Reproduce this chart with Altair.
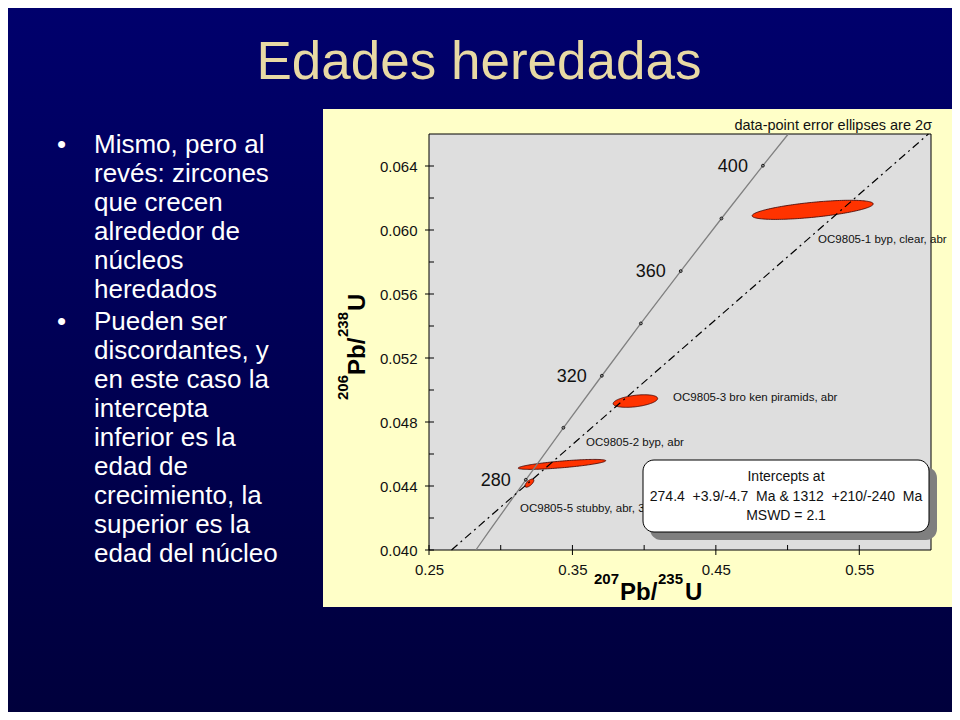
import altair as alt
import pandas as pd
import numpy as np

# ------------------------------------------------------------------ data
title_text = "Edades heredadas"
bullet1 = ["Mismo, pero al", "revés: zircones", "que crecen", "alrededor de",
           "núcleos", "heredados"]
bullet2 = ["Pueden ser", "discordantes, y", "en este caso la", "intercepta",
           "inferior es la", "edad de", "crecimiento, la", "superior es la",
           "edad del núcleo"]

# concordia curve
conc_x = [0.2827, 0.2918, 0.3175, 0.3437, 0.3705, 0.3977, 0.4255, 0.4539, 0.4828, 0.5005]
conc_y = [0.0400, 0.04116, 0.04439, 0.04764, 0.05089, 0.05416, 0.05743, 0.06072, 0.06402, 0.0660]

marker_age = [280, 300, 320, 340, 360, 380, 400]
marker_x = [0.3175, 0.3437, 0.3705, 0.3977, 0.4255, 0.4539, 0.4828]
marker_y = [0.04439, 0.04764, 0.05089, 0.05416, 0.05743, 0.06072, 0.06402]
labelled_ages = [280, 320, 360, 400]

# discordia (regression line)
disc_x = [0.2657, 0.5982]
disc_y = [0.0400, 0.0660]

# error ellipses: centre, half x-extent, y-rise along major axis, vertical half-thickness
ell_name = ["OC9805-1", "OC9805-3", "OC9805-2", "OC9805-5"]
ell_cx = [0.5175, 0.3939, 0.3427, 0.3200]
ell_cy = [0.06126, 0.04931, 0.04535, 0.04418]
ell_ax = [0.0422, 0.0155, 0.0305, 0.0031]
ell_ay = [0.00037, 0.00016, 0.00023, 0.00017]
ell_b = [0.00047, 0.00036, 0.00021, 0.00019]

elab_text = ["OC9805-1 byp, clear, abr", "OC9805-3 bro ken piramids, abr",
             "OC9805-2 byp, abr", "OC9805-5 stubby, abr, 3"]
elab_x = [0.5213, 0.4202, 0.3595, 0.3135]
elab_y = [0.05938, 0.04950, 0.04669, 0.04256]

x_major = [0.25, 0.35, 0.45, 0.55]
x_minor = [0.30, 0.40, 0.50]
y_major = [0.040, 0.044, 0.048, 0.052, 0.056, 0.060, 0.064]
y_minor = [0.042, 0.046, 0.050, 0.054, 0.058, 0.062]

note_text = "data-point error ellipses are 2σ"
box_lines = ["Intercepts at",
             "274.4 \u00a0+3.9/-4.7 \u00a0Ma & 1312 \u00a0+210/-240 \u00a0Ma",
             "MSWD = 2.1"]

# ------------------------------------------------------------------ layout helpers
X0, Y0 = 429, 134          # page position of plot origin
W, H = 502, 416            # plot area
def px(v):
    return v - X0
def py(v):
    return v - Y0

FONT = "Liberation Sans"
one = pd.DataFrame({"k": [0]})

xs = alt.Scale(domain=[0.25, 0.60], nice=False, zero=False)
ys = alt.Scale(domain=[0.040, 0.066], nice=False, zero=False)
xaxis = alt.Axis(values=x_major, format=".2f", ticks=False, domain=False, grid=False,
                 labelFontSize=15, labelColor="#111111", labelFont=FONT,
                 labelPadding=12, labelFlush=False, title=None, zindex=1)
yaxis = alt.Axis(values=y_major, format=".3f", ticks=False, domain=False, grid=False,
                 labelFontSize=15, labelColor="#111111", labelFont=FONT,
                 labelPadding=12, labelFlush=False, title=None, zindex=1)

# ------------------------------------------------------------------ tables
conc_df = pd.DataFrame({"x": conc_x, "y": conc_y, "i": range(len(conc_x))})
disc_df = pd.DataFrame({"x": disc_x, "y": disc_y, "i": range(len(disc_x))})
mark_df = pd.DataFrame({"age": marker_age, "x": marker_x, "y": marker_y})
lab_df = mark_df[mark_df["age"].isin(labelled_ages)].copy()
lab_df["t"] = lab_df["age"].astype(str)

rows = []
th = np.linspace(0, np.pi, 80)
for n, cx, cy, ax, ay, b in zip(ell_name, ell_cx, ell_cy, ell_ax, ell_ay, ell_b):
    for t in th:
        rows.append({"name": n, "x": cx + ax * np.cos(t),
                     "yu": cy + ay * np.cos(t) + b * np.sin(t),
                     "yl": cy + ay * np.cos(t) - b * np.sin(t)})
ell_df = pd.DataFrame(rows)
elab_df = pd.DataFrame({"t": elab_text, "x": elab_x, "y": elab_y})

# ------------------------------------------------------------------ layers
grad = alt.Gradient(gradient="linear",
                    stops=[alt.GradientStop(color="#00006c", offset=0),
                           alt.GradientStop(color="#00003c", offset=1)],
                    x1=0, x2=0, y1=0, y2=1)
bg = alt.Chart(one).mark_rect(color=grad).encode(
    x=alt.value(px(8)), x2=alt.value(px(952)), y=alt.value(py(8)), y2=alt.value(py(712)))

yellow = alt.Chart(one).mark_rect(color="#FFFFC8").encode(
    x=alt.value(px(323)), x2=alt.value(px(957)), y=alt.value(py(109)), y2=alt.value(py(607)))

gray = alt.Chart(one).mark_rect(fill="#DEDEDE", stroke="black", strokeWidth=1).encode(
    x=alt.value(0), x2=alt.value(W), y=alt.value(0), y2=alt.value(H))

tick_style = dict(color="black", strokeWidth=1)
xt_major = alt.Chart(pd.DataFrame({"v": x_major})).mark_rule(**tick_style).encode(
    x=alt.X("v:Q", scale=xs, axis=xaxis), y=alt.value(H - 5), y2=alt.value(H + 5))
xt_minor = alt.Chart(pd.DataFrame({"v": x_minor})).mark_rule(**tick_style).encode(
    x=alt.X("v:Q", scale=xs, axis=xaxis), y=alt.value(H - 5), y2=alt.value(H))
yt_major = alt.Chart(pd.DataFrame({"v": y_major})).mark_rule(**tick_style).encode(
    y=alt.Y("v:Q", scale=ys, axis=yaxis), x=alt.value(-4), x2=alt.value(5))
yt_minor = alt.Chart(pd.DataFrame({"v": y_minor})).mark_rule(**tick_style).encode(
    y=alt.Y("v:Q", scale=ys, axis=yaxis), x=alt.value(0), x2=alt.value(5))

ellipses = alt.Chart(ell_df).mark_area(fill="#FF3300", stroke="#3a0000", strokeWidth=0.8,
                                       opacity=1).encode(
    x=alt.X("x:Q", scale=xs, axis=xaxis),
    y=alt.Y("yu:Q", scale=ys, axis=yaxis, stack=None),
    y2="yl:Q",
    detail="name:N")

conc = alt.Chart(conc_df).mark_line(color="#808080", strokeWidth=1.3).encode(
    x=alt.X("x:Q", scale=xs, axis=xaxis), y=alt.Y("y:Q", scale=ys, axis=yaxis),
    order="i:Q")
disc = alt.Chart(disc_df).mark_line(color="black", strokeWidth=1.2,
                                    strokeDash=[8, 4, 2, 4]).encode(
    x=alt.X("x:Q", scale=xs, axis=xaxis), y=alt.Y("y:Q", scale=ys, axis=yaxis),
    order="i:Q")
markers = alt.Chart(mark_df).mark_point(shape="circle", size=8, filled=False,
                                        color="#111111", strokeWidth=1, opacity=1).encode(
    x=alt.X("x:Q", scale=xs, axis=xaxis), y=alt.Y("y:Q", scale=ys, axis=yaxis))
age_labels = alt.Chart(lab_df).mark_text(align="right", baseline="middle", dx=-15, dy=1,
                                         fontSize=18, font=FONT, color="#111111").encode(
    x=alt.X("x:Q", scale=xs, axis=xaxis), y=alt.Y("y:Q", scale=ys, axis=yaxis), text="t:N")
ell_labels = alt.Chart(elab_df).mark_text(align="left", baseline="middle", fontSize=11.5,
                                          font=FONT, color="#111111").encode(
    x=alt.X("x:Q", scale=xs, axis=xaxis), y=alt.Y("y:Q", scale=ys, axis=yaxis), text="t:N")

note = alt.Chart(one).mark_text(text=note_text, align="right", baseline="alphabetic",
                                fontSize=14.5, font=FONT, color="#111111").encode(
    x=alt.value(px(932)), y=alt.value(py(130)))

shadow = alt.Chart(one).mark_rect(fill="#7f7f7f", cornerRadius=11).encode(
    x=alt.value(px(650)), x2=alt.value(px(937)), y=alt.value(py(467)), y2=alt.value(py(540)))
box = alt.Chart(one).mark_rect(fill="white", stroke="black", strokeWidth=1,
                               cornerRadius=11).encode(
    x=alt.value(px(643)), x2=alt.value(px(929)), y=alt.value(py(460)), y2=alt.value(py(532)))
box_text = alt.Chart(one).mark_text(text=box_lines, align="center", baseline="alphabetic",
                                    lineHeight=19.5, fontSize=14, font=FONT,
                                    color="#111111").encode(
    x=alt.value(px(786)), y=alt.value(py(481)))

title = alt.Chart(one).mark_text(text=title_text, align="center", baseline="alphabetic",
                                 fontSize=53, font=FONT, color="#E8D9A4").encode(
    x=alt.value(px(479)), y=alt.value(py(79)))

btxt = dict(align="left", baseline="alphabetic", fontSize=26, font=FONT, color="white",
            lineHeight=29)
b1_dot = alt.Chart(one).mark_text(text="•", **btxt).encode(
    x=alt.value(px(57)), y=alt.value(py(153)))
b1 = alt.Chart(one).mark_text(text=bullet1, **btxt).encode(
    x=alt.value(px(94)), y=alt.value(py(153)))
b2_dot = alt.Chart(one).mark_text(text="•", **btxt).encode(
    x=alt.value(px(57)), y=alt.value(py(330)))
b2 = alt.Chart(one).mark_text(text=bullet2, **btxt).encode(
    x=alt.value(px(94)), y=alt.value(py(330)))

def piece(txt, x, y, size, angle=0):
    kw = dict(text=txt, align="left", baseline="alphabetic", fontSize=size, font=FONT,
              fontWeight="bold", color="black")
    if angle:
        kw["angle"] = angle
    return alt.Chart(one).mark_text(**kw).encode(x=alt.value(px(x)), y=alt.value(py(y)))

xtitle = [piece("207", 594, 584, 15), piece("Pb/", 620, 600, 24),
          piece("235", 658, 584, 15), piece("U", 685, 600, 24)]
ytitle = [piece("206", 348, 400, 15, 270), piece("Pb/", 365, 375, 24, 270),
          piece("238", 348, 337, 15, 270), piece("U", 365, 311, 24, 270)]

layers = [bg, yellow, gray, xt_major, xt_minor, yt_major, yt_minor, ellipses, conc, disc,
          markers, age_labels, ell_labels, note, shadow, box, box_text, title,
          b1_dot, b1, b2_dot, b2] + xtitle + ytitle

chart = alt.layer(*layers).properties(
    width=W, height=H,
    autosize=alt.AutoSizeParams(type="none"),
    padding={"left": X0 - 8, "top": Y0 - 8, "right": 952 - (X0 + W), "bottom": 712 - (Y0 + H)},
    background="#000060",
).configure_view(strokeWidth=0)

chart.save("out.html", embed_options={"renderer": "svg", "actions": False})
